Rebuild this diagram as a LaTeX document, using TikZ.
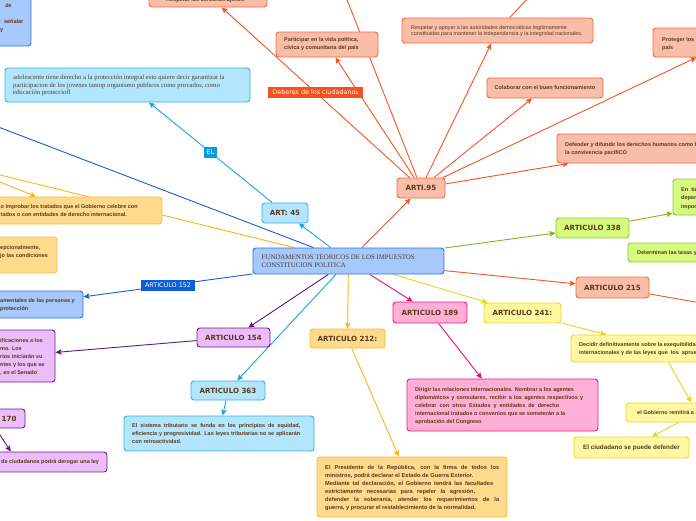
\documentclass[tikz,border=0pt]{standalone}
\usepackage{fontspec}
\setmainfont{Liberation Sans}
\newfontfamily\dvs{DejaVu Sans}
\newfontfamily\serifont{Liberation Serif}
\usetikzlibrary{arrows.meta}
\pgfdeclarelayer{bg}
\pgfsetlayers{bg,main}
\definecolor{txt}{HTML}{5A3A1A}
\definecolor{ctxt}{HTML}{4B4135}
\definecolor{salF}{HTML}{F9BEA9}
\definecolor{salD}{HTML}{F46A3C}
\definecolor{orL}{HTML}{F4561F}
\definecolor{lbF}{HTML}{B3E5FC}
\definecolor{lbD}{HTML}{2CB5F3}
\definecolor{lbL}{HTML}{19A5E3}
\definecolor{cbF}{HTML}{A6C8FA}
\definecolor{cbD}{HTML}{2C73E0}
\definecolor{cbL}{HTML}{1560D4}
\definecolor{yoF}{HTML}{FFD98C}
\definecolor{yoD}{HTML}{FBBF2E}
\definecolor{yoL}{HTML}{FDB515}
\definecolor{puF}{HTML}{EBBDF9}
\definecolor{puD}{HTML}{6C1E92}
\definecolor{puL}{HTML}{5E1780}
\definecolor{piF}{HTML}{FFAFD5}
\definecolor{piD}{HTML}{F0197C}
\definecolor{piL}{HTML}{F20F78}
\definecolor{lyF}{HTML}{FFF8A3}
\definecolor{lyD}{HTML}{EED61A}
\definecolor{lyL}{HTML}{E9D41A}
\definecolor{grF}{HTML}{D6F97F}
\definecolor{grD}{HTML}{8DC63F}
\definecolor{grL}{HTML}{7CB71C}
\definecolor{lblOr}{HTML}{F4511E}
\definecolor{lblBl}{HTML}{0B5ED7}
\definecolor{lblCy}{HTML}{049BE5}
\tikzset{
  bx/.style={draw, rounded corners=3pt, line width=0.9pt, inner sep=0pt, text=txt},
  salb/.style={bx, fill=salF, draw=salD},
  lbb/.style={bx, fill=lbF, draw=lbD},
  cbb/.style={bx, fill=cbF, draw=cbD},
  yob/.style={bx, fill=yoF, draw=yoD},
  pub/.style={bx, fill=puF, draw=puD},
  pib/.style={bx, fill=piF, draw=piD},
  lyb/.style={bx, fill=lyF, draw=lyD},
  grb/.style={bx, fill=grF, draw=grD},
  sm/.style={font=\bfseries\fontsize{5.5}{8}\selectfont, text=txt, inner sep=0pt, align=left},
  arttxt/.style={font=\dvs\bfseries\fontsize{7.1}{8}\selectfont},
  lab/.style={font=\dvs\fontsize{6.4}{7}\selectfont, text=white, inner xsep=4.5pt, inner ysep=0pt, minimum height=11.5pt},
  con/.style={line width=0.9pt},
  arr/.style={con, -{Stealth[length=6pt,width=5.5pt,inset=1.2pt]}},
}
\begin{document}
\begin{tikzpicture}[x=1pt,y=-1pt]
\useasboundingbox (0,0) rectangle (696,520);
\begin{scope}
\clip (0,0) rectangle (696,520);
% ---- top left
\node[cbb, minimum width=60pt, minimum height=60pt] (tl) at (1,16) {};
\node[sm, anchor=base east] (tl1) at (12,7.5) {de};
\node[sm, anchor=base east] (tl2) at (23.5,23.5) {señalar};
\node[sm, anchor=base east] (tl3) at (3.5,31.5) {y};
% ---- ARTI.95 family
\node[salb, minimum width=118pt, minimum height=24pt] (ajenos) at (208,-5) {};
\node[sm, anchor=base west] (ajenos-t) at (166,1.5) {Respetar los derechos ajenos};
\node[salb, minimum width=102pt, minimum height=25pt] (part) at (327,44.5) {};
\node[sm, anchor=west] (part-t) at (284,44.5) {Participar en la vida política,\\ cívica y comunitaria del país};
\node[salb, minimum width=191pt, minimum height=25pt] (resp) at (497.5,30.5) {};
\node[font=\fontsize{5.4}{6.7}\selectfont, text=txt, inner sep=0pt, align=left, anchor=west] (resp-t) at (411,31) {Respetar y apoyar a las autoridades democráticas legítimamente\\ constituidas para mantener la independencia y la integridad nacionales.};
\node[salb, sm, align=center, minimum width=116pt, minimum height=20pt] (colab) at (545,88) {Colaborar con el buen funcionamiento};
\node[salb, minimum width=150pt, minimum height=29pt] (prot) at (728,42.5) {};
\node[sm, anchor=west] (prot-t) at (662,44) {Proteger los recursos culturales y naturales del\\ país};
\node[salb, arttxt, minimum width=48pt, minimum height=20pt] (a95) at (421,188) {ARTI.95};
\node[salb, minimum width=203pt, minimum height=29pt] (def) at (658.5,148.5) {};
\node[sm, anchor=west] (def-t) at (565,149.5) {Defender y difundir los derechos humanos como fundamento de\\ la convivencia pacífiCO};
% ---- light blue
\node[lbb, arttxt, minimum width=46pt, minimum height=20pt] (a45) at (285,213) {ART: 45};
\node[lbb, minimum width=245pt, minimum height=34pt] (adol) at (127.5,85) {};
\node[font=\serifont\fontsize{6.65}{7.7}\selectfont, text=ctxt, inner sep=0pt, align=left, anchor=west] (adol-t) at (13,85.5) {adolescente tiene derecho a la protección integral esto quiere decir garantizar la\\ participacion de los jovenes tantop organismo publicos como provados, como\\ educación protecciofl};
% ---- central
\node[cbb, minimum width=191pt, minimum height=26pt] (central) at (348.5,261) {};
\node[font=\serifont\fontsize{6.9}{8.3}\selectfont, text=ctxt, inner sep=0pt, align=left, anchor=west] (central-t) at (261.5,261) {FUNDAMENTOS TEORICOS DE LOS IMPUESTOS\\ CONSTITUCION POLITICA};
% ---- yellow-orange left
\node[yob, minimum width=182.5pt, minimum height=27pt] (aprob) at (70.75,210.5) {};
\node[sm, anchor=west] (aprob-t) at (0.5,211) {o improbar los tratados que el Gobierno celebre con\\ tados o con entidades de derecho internacional.};
\node[yob, minimum width=87pt, minimum height=36pt] (excep) at (13.5,255) {};
\node[sm, anchor=west] (excep-t) at (0,252) {epcionalmente,\\ jo las condiciones};
% ---- blue left
\node[cbb, minimum width=113pt, minimum height=27pt] (fund) at (26.5,304.5) {};
\node[sm, anchor=west] (fund-t) at (0,305) {amentales de las personas y\\ protección};
% ---- purple
\node[pub, arttxt, minimum width=73pt, minimum height=19pt] (a154) at (233.5,337.5) {ARTICULO 154};
\node[pub, minimum width=85pt, minimum height=52pt] (purp) at (12.5,356) {};
\node[sm, anchor=west] (purp-t) at (0,357) {ificaciones a los\\ mo. Los\\ rios iniciarán su\\ ntes y los que se\\ , en el Senado};
\node[pub, minimum width=71.4pt, minimum height=19pt] (n170) at (-10.7,418.5) {};
\node[arttxt, text=txt, inner sep=0pt, anchor=west] (n170-t) at (1.5,419) {170};
\node[pub, minimum width=179pt, minimum height=20pt] (derog) at (17.5,462) {};
\node[sm, anchor=west] (derog-t) at (1,462.5) {de ciudadanos podrá derogar una ley};
% ---- 363
\node[lbb, arttxt, minimum width=74pt, minimum height=19pt] (a363) at (228,390.5) {ARTICULO 363};
\node[lbb, minimum width=190pt, minimum height=35pt] (sist) at (219,433.5) {};
\node[sm, anchor=west] (sist-t) at (132,433.5) {\makebox[168pt][s]{El sistema tributario se funda en los principios de equidad,}\\ \makebox[168pt][s]{eficiencia y progresividad. Las leyes tributarias no se aplicarán}\\ con retroactividad.};
% ---- 212
\node[yob, arttxt, minimum width=75pt, minimum height=19pt] (a212) at (347.5,338.5) {ARTICULO 212:};
\node[yob, minimum width=190pt, minimum height=60pt] (pres) at (412,487) {};
\node[sm, font=\bfseries\fontsize{5.7}{8.1}\selectfont, anchor=west] (pres-t) at (325,488) {\makebox[174pt][s]{El Presidente de la República, con la firma de todos los}\\ ministros, podrá declarar el Estado de Guerra Exterior.\\ \makebox[168pt][s]{Mediante tal declaración, el Gobierno tendrá las facultades}\\ \makebox[150pt][s]{estrictamente necesarias para repeler la agresión,}\\ \makebox[174pt][s]{defender la soberanía, atender los requerimientos de la}\\ guerra, y procurar el restablecimiento de la normalidad.};
% ---- 189
\node[pib, arttxt, minimum width=74pt, minimum height=21pt] (a189) at (430,312.5) {ARTICULO 189};
\node[pib, minimum width=191pt, minimum height=52pt] (dirig) at (502.5,405) {};
\node[sm, anchor=west] (dirig-t) at (415,406) {Dirigir las relaciones internacionales. Nombrar a los agentes\\ \makebox[168pt][s]{diplomáticos y consulares, recibir a los agentes respectivos y}\\ \makebox[144pt][s]{celebrar con otros Estados y entidades de derecho}\\ internacional tratados o convenios que se someterán a la\\ aprobación del Congreso};
% ---- 241
\node[lyb, arttxt, minimum width=77pt, minimum height=20pt] (a241) at (522.5,313) {ARTICULO 241:};
\node[lyb, minimum width=179pt, minimum height=27pt] (decid) at (660.5,348.5) {};
\node[sm, anchor=west] (decid-t) at (579,349) {Decidir definitivamente sobre la exequibilidad de los tratados\\ internacionales y de las leyes que\ \ los\ \ aprueben.};
\node[lyb, minimum width=142pt, minimum height=19pt] (gob) at (697,412.5) {};
\node[sm, anchor=west] (gob-t) at (637,413) {el Gobierno remitirá a la Corte Constitucional};
\node[lyb, font=\bfseries\fontsize{6.3}{7}\selectfont, minimum width=115pt, minimum height=21pt] (ciud) at (631.5,447.5) {El ciudadano se puede defender};
% ---- 338
\node[grb, arttxt, minimum width=73pt, minimum height=20pt] (a338) at (592.5,228) {ARTICULO 338};
\node[grb, minimum width=174pt, minimum height=36pt] (enti) at (760,197) {};
\node[sm, font=\bfseries\fontsize{5.5}{8.4}\selectfont, anchor=west] (enti-t) at (681,198.5) {En\ \ tiempo de paz solamente el Congreso\\ departamentales y los concejos distritales\\ imponer contribuciones fiscales};
\node[grb, minimum width=224pt, minimum height=19pt] (determ) at (740,252.5) {};
\node[sm, anchor=west] (determ-t) at (637,253) {Determinan las tasas y contribuciones};
% ---- 215
\node[salb, arttxt, minimum width=73pt, minimum height=21pt] (a215) at (612.5,287.5) {ARTICULO 215};
% ---- off-canvas ends
\coordinate (otop) at (342,-13);
\coordinate (orespup) at (530,-4);
\coordinate (oblue) at (-20,120);
\coordinate (oyel) at (-20,170);
\coordinate (oyel2) at (-20,174);
\coordinate (o215) at (710,304.5);
\end{scope}
\begin{pgfonlayer}{bg}
\clip (0,0) rectangle (696,520);
\fill[white] (0,0) rectangle (696,520);
% orange
\draw[arr, orL] (central) -- (a95);
\draw[arr, orL] (a95) -- node[lab, fill=lblOr] (lbldeb) {Deberes de los ciudadanos} (ajenos);
\draw[con, orL] (a95) -- (otop);
\draw[arr, orL] (a95) -- (part);
\draw[arr, orL] (a95) -- (resp);
\draw[con, orL] (resp) -- (orespup);
\draw[arr, orL] (a95) -- (colab);
\draw[arr, orL] (a95) -- (prot);
\draw[arr, orL] (a95) -- (def);
\draw[arr, orL] (central) -- (a215);
\draw[con, orL] (a215) -- (o215);
% light blue
\draw[arr, lbL] (central) -- (a45);
\draw[arr, lbL] (a45) -- node[lab, fill=lblCy, inner xsep=3pt] (lblel) {EL} (adol);
\draw[arr, lbL] (central) -- (a363);
\draw[arr, lbL] (a363) -- (sist);
% blue
\draw[con, cbL] (central) -- (oblue);
\draw[arr, cbL] (central) -- node[lab, fill=lblBl] (lbl152) {ARTICULO 152} (fund);
% yellow-orange
\draw[con, yoL] (central) -- (oyel);
\draw[arr, yoL] (oyel2) -- (aprob);
\draw[arr, yoL] (central) -- (a212);
\draw[arr, yoL] (a212) -- (pres);
% purple
\draw[arr, puL] (central) -- (a154);
\draw[arr, puL] (a154) -- (purp);
\draw[arr, puL] (n170) -- (derog);
% pink
\draw[arr, piL] (central) -- (a189);
\draw[arr, piL] (a189) -- (dirig);
% light yellow
\draw[arr, lyL] (central) -- (a241);
\draw[arr, lyL] (a241) -- (decid);
\draw[arr, lyL] (decid) -- (gob);
\draw[arr, lyL] (gob) -- (ciud);
% green
\draw[arr, grL] (central) -- (a338);
\draw[arr, grL] (a338) -- (enti);
\end{pgfonlayer}
\end{tikzpicture}
\end{document}
